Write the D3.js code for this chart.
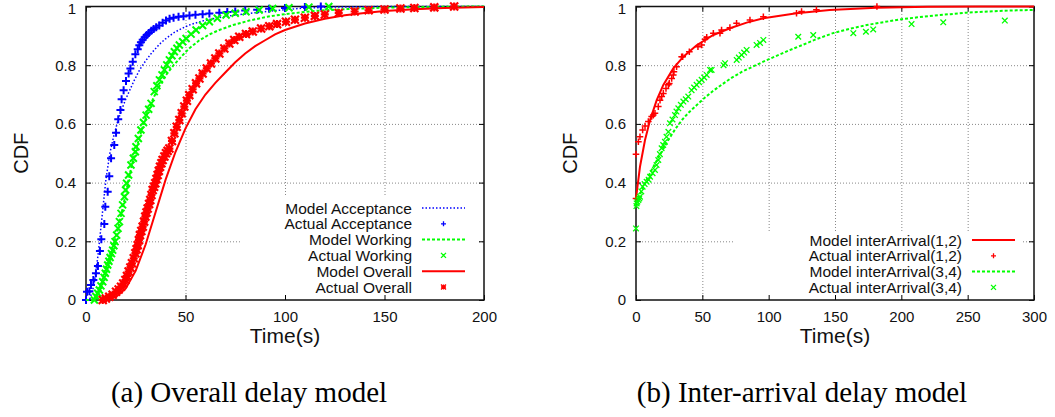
<!DOCTYPE html>
<html>
<head>
<meta charset="utf-8">
<script src="https://cdn.jsdelivr.net/npm/d3@7"></script>
<style>
  body { margin: 0; background: #fff; }
  svg { display: block; font-family: 'Liberation Sans', Arial, Helvetica, sans-serif; }
  .grid line { stroke: #888; stroke-dasharray: 1,2; }
  .grid .domain { display: none; }
  .axis .domain { display: none; }
  .axis line { stroke: #000; stroke-width: 1; }
  .axis text { font-size: 15px; fill: #111; font-family: 'Liberation Sans', Arial, sans-serif; }
</style>
</head>
<body>
<div id="chart"></div>
<script>
let width = 1055, height = 417

// DATA (time in seconds, CDF)
let cdfTicks = [0, 0.2, 0.4, 0.6, 0.8, 1]
let overallTicks = [0, 50, 100, 150, 200]
let interTicks = [0, 50, 100, 150, 200, 250, 300]

let modelAcceptance = [[0,0],[2,0.005],[4,0.05],[6,0.15],[8,0.28],[10,0.41],[12,0.5],[14,0.56],[16,0.61],[18,0.65],[20,0.685],[22,0.715],[24,0.745],[27,0.785],[30,0.815],[33,0.842],[37,0.872],[40,0.89],[44,0.91],[48,0.925],[52,0.937],[58,0.95],[65,0.96],[75,0.971],[85,0.979],[95,0.986],[108,0.994],[125,0.998],[150,1],[200,1]]
let actualAcceptance = [[0,0],[0.5,0.028],[1.7,0.03],[2.5,0.051],[3.7,0.068],[5,0.091],[6,0.116],[7,0.167],[7.7,0.207],[9.2,0.259],[9.7,0.318],[10.9,0.369],[11.7,0.422],[12.6,0.483],[14.2,0.528],[15.1,0.57],[16.2,0.616],[17.3,0.647],[17.9,0.684],[18.9,0.715],[20.1,0.746],[21.4,0.772],[22.3,0.789],[23.5,0.812],[24.8,0.837],[26,0.854],[26.8,0.868],[27.6,0.878],[28.5,0.887],[29.5,0.895],[30.5,0.903],[31.6,0.91],[32.8,0.917],[34,0.923],[35.3,0.929],[36.8,0.935],[38.5,0.945],[40.2,0.952],[42,0.958],[44,0.962],[46.5,0.965],[49,0.967],[52,0.969],[55,0.972],[58.6,0.974],[62,0.976],[67,0.979],[71,0.981],[75,0.983],[80,0.986],[86,0.989],[92,0.992],[100,0.995],[110,0.998],[118,1]]
let modelWorking = [[0,0],[3,0],[5,0.01],[7,0.04],[10,0.1],[13,0.165],[16,0.24],[19,0.33],[22,0.43],[25,0.51],[28,0.58],[31,0.64],[34,0.69],[37,0.73],[40,0.765],[44,0.8],[48,0.83],[52,0.858],[57,0.885],[62,0.905],[67,0.92],[74,0.937],[82,0.952],[91,0.965],[100,0.974],[115,0.985],[130,0.991],[150,0.996],[175,0.999],[200,1]]
let actualWorking = [[4.2,0],[5,0.012],[5.9,0.023],[6.7,0.034],[7.5,0.048],[8.4,0.062],[9.1,0.077],[9.7,0.091],[10.3,0.105],[10.9,0.119],[11.5,0.132],[12.1,0.145],[12.8,0.158],[13.4,0.17],[14,0.185],[14.6,0.199],[15.4,0.221],[16.1,0.244],[16.8,0.267],[17.6,0.295],[18.4,0.324],[19.3,0.352],[19.9,0.375],[20.4,0.398],[21.4,0.426],[22.6,0.46],[23.8,0.483],[24.8,0.505],[25.1,0.522],[26.3,0.55],[27.6,0.579],[28.9,0.605],[30.2,0.63],[31.5,0.65],[32.7,0.67],[34.3,0.71],[35.6,0.73],[36.9,0.75],[38.2,0.767],[39.4,0.784],[40.6,0.801],[41.9,0.818],[43.2,0.832],[44.4,0.846],[45.7,0.858],[46.9,0.869],[48.6,0.88],[50.3,0.891],[52.8,0.906],[55.3,0.92],[58.6,0.935],[62,0.948],[66,0.96],[70.4,0.971],[75,0.977],[80.4,0.982],[87,0.988],[93.8,0.993],[102,0.996],[112,0.998],[122,1]]
let modelOverall = [[10,0],[15,0.01],[20,0.04],[25,0.1],[30,0.19],[35,0.3],[40,0.41],[45,0.505],[50,0.585],[55,0.65],[60,0.7],[65,0.74],[70,0.775],[75,0.81],[80,0.84],[85,0.865],[90,0.885],[95,0.905],[100,0.92],[110,0.942],[120,0.958],[130,0.97],[140,0.978],[150,0.985],[165,0.991],[180,0.995],[200,0.998]]
let actualOverall = [[8.4,0],[10,0.005],[11.7,0.011],[13.4,0.018],[15.1,0.028],[16.4,0.036],[17.6,0.045],[18.7,0.056],[19.8,0.068],[20.6,0.082],[21.4,0.097],[22.3,0.111],[23.1,0.125],[24,0.142],[24.8,0.159],[25.4,0.173],[26,0.187],[26.6,0.204],[27.1,0.221],[27.8,0.235],[28.5,0.25],[29.2,0.267],[29.8,0.284],[30.4,0.298],[31,0.312],[31.7,0.327],[32.3,0.341],[32.9,0.358],[33.5,0.375],[34.2,0.386],[34.8,0.398],[35.4,0.412],[36,0.426],[36.6,0.44],[37.2,0.454],[37.9,0.466],[38.5,0.477],[39.4,0.489],[40.2,0.5],[41,0.508],[41.9,0.516],[43.2,0.542],[44.4,0.568],[45.6,0.59],[46.9,0.613],[48.1,0.636],[49.4,0.659],[50.7,0.679],[51.9,0.698],[53.6,0.718],[55.3,0.738],[57,0.755],[58.6,0.772],[60.7,0.789],[62.8,0.806],[65,0.823],[67,0.84],[69.5,0.857],[72,0.874],[74.5,0.886],[77,0.897],[80.4,0.906],[83.8,0.915],[88,0.925],[92.1,0.933],[96,0.94],[100.5,0.948],[105,0.955],[110,0.962],[115,0.968],[120,0.973],[127,0.978],[135,0.983],[142,0.987],[150,0.99],[158,0.993],[165,0.995],[175,0.997],[185,1]]

let modelInter12 = [[0,0.346],[3,0.454],[6.8,0.545],[10.6,0.613],[15.6,0.681],[20.6,0.733],[28.1,0.789],[35.7,0.829],[45.7,0.868],[58.3,0.903],[70.8,0.926],[83.4,0.945],[96,0.96],[121,0.977],[146,0.988],[181,0.996],[220,0.999],[260,1],[300,1]]
let actualInter12 = [[0,0.346],[0,0.497],[1.8,0.539],[3,0.556],[5,0.579],[6.8,0.593],[9.3,0.608],[11.8,0.625],[13,0.63],[14.3,0.636],[16.8,0.659],[18.1,0.681],[19.4,0.693],[20.6,0.704],[22.6,0.721],[24.4,0.733],[25.1,0.738],[26.9,0.755],[28.1,0.767],[28.6,0.778],[30.6,0.795],[34.4,0.829],[35.2,0.829],[40.2,0.846],[46.7,0.863],[49.5,0.869],[52,0.888],[53.3,0.895],[58.3,0.909],[63.3,0.909],[64.5,0.92],[70.8,0.928],[75.8,0.943],[85.9,0.954],[96,0.965],[121,0.977],[124.8,0.983],[136,0.989],[181.6,1]]
let modelInter34 = [[0,0.33],[4,0.37],[8,0.41],[12,0.445],[16,0.478],[20,0.51],[25,0.55],[30,0.585],[35,0.615],[40,0.64],[46,0.665],[52,0.69],[58,0.712],[65,0.735],[72,0.757],[80,0.778],[88,0.795],[96,0.812],[105,0.83],[115,0.85],[125,0.868],[135,0.887],[149,0.91],[162,0.925],[174,0.937],[187,0.947],[199,0.956],[212,0.963],[224,0.969],[237,0.974],[249,0.979],[262,0.982],[274,0.985],[287,0.987],[299,0.988]]
let actualInter34 = [[0,0.244],[0.3,0.32],[0.5,0.329],[1,0.335],[1.8,0.341],[2.5,0.346],[3,0.352],[4,0.37],[5,0.386],[6.5,0.395],[8,0.403],[9.5,0.41],[10.6,0.42],[12.5,0.432],[14.3,0.443],[15.5,0.46],[16.8,0.477],[18,0.497],[19.3,0.517],[20.5,0.528],[21.8,0.539],[23,0.556],[24.4,0.573],[25.6,0.602],[27.5,0.615],[29.4,0.63],[30.5,0.642],[31.9,0.653],[33.8,0.665],[35.7,0.676],[37.5,0.684],[39.4,0.693],[41.9,0.715],[43.8,0.724],[45.7,0.733],[47.6,0.742],[49.5,0.75],[51.4,0.758],[53.3,0.767],[55.8,0.784],[57,0.784],[66,0.8],[67.1,0.807],[75.9,0.818],[77.5,0.826],[79.6,0.835],[81.5,0.843],[83.4,0.852],[90.9,0.869],[93.5,0.876],[96,0.886],[122.3,0.897],[133.6,0.903],[163.8,0.909],[173.3,0.914],[178.8,0.922],[207.7,0.94],[231.6,0.946],[278,0.952]]

let svg = d3.select('#chart')
  .append('svg')
  .attr('width', width)
  .attr('height', height)

svg.append('rect').attr('width', width).attr('height', height).attr('fill', '#fff')

function markerPath (type, s) {
  let plus = 'M' + (-s) + ',0H' + s + 'M0,' + (-s) + 'V' + s
  let cross = 'M' + (-s) + ',' + (-s) + 'L' + s + ',' + s + 'M' + (-s) + ',' + s + 'L' + s + ',' + (-s)
  if (type === 'plus') return plus
  if (type === 'cross') return cross
  return plus + cross
}

// PANEL DRAWING
function drawPanel (p) {
  let x = d3.scaleLinear().domain([0, p.xMax]).range([p.left, p.right])
  let y = d3.scaleLinear().domain([0, 1]).range([p.bottom, p.top])
  let h = p.bottom - p.top, w = p.right - p.left

  let g = svg.append('g')

  // GRID LINES
  g.append('g')
    .attr('class', 'grid')
    .attr('transform', 'translate(0,' + p.bottom + ')')
    .call(d3.axisBottom(x).tickValues(p.xTicks.slice(1, -1)).tickSize(-h).tickFormat(''))
  g.append('g')
    .attr('class', 'grid')
    .attr('transform', 'translate(' + p.left + ',0)')
    .call(d3.axisLeft(y).tickValues(cdfTicks.slice(1, -1)).tickSize(-w).tickFormat(''))

  // legend box hides the grid behind it
  g.append('rect')
    .attr('x', p.legendBox[0]).attr('y', p.legendBox[1])
    .attr('width', p.legendBox[2] - p.legendBox[0])
    .attr('height', p.bottom - p.legendBox[1] - 1)
    .attr('fill', '#fff')

  // AXES (inward ticks, mirrored)
  g.append('g').attr('class', 'axis')
    .attr('transform', 'translate(0,' + p.bottom + ')')
    .call(d3.axisBottom(x).tickValues(p.xTicks).tickSize(-5).tickPadding(11).tickFormat(d => d))
  g.append('g').attr('class', 'axis')
    .attr('transform', 'translate(0,' + p.top + ')')
    .call(d3.axisTop(x).tickValues(p.xTicks).tickSize(-5).tickFormat(''))
  let yAxis = g.append('g').attr('class', 'axis')
    .attr('transform', 'translate(' + p.left + ',0)')
    .call(d3.axisLeft(y).tickValues(cdfTicks).tickSize(-5).tickPadding(10).tickFormat(d => d))
  // keep the top label inside the page
  yAxis.selectAll('.tick text').filter(d => d === 1).attr('dy', '0.45em')
  g.append('g').attr('class', 'axis')
    .attr('transform', 'translate(' + p.right + ',0)')
    .call(d3.axisRight(y).tickValues(cdfTicks).tickSize(-5).tickFormat(''))

  g.append('rect')
    .attr('x', p.left).attr('y', p.top)
    .attr('width', w).attr('height', h)
    .attr('fill', 'none')
    .attr('stroke', '#111')
    .attr('stroke-width', 1.5)

  // SERIES
  let line = d3.line().x(d => x(d[0])).y(d => y(d[1]))
  p.series.forEach(s => {
    if (s.kind === 'line') {
      g.append('path')
        .datum(s.data)
        .attr('d', line)
        .attr('fill', 'none')
        .attr('stroke', s.color)
        .attr('stroke-width', s.width)
        .attr('stroke-dasharray', s.dash)
    } else {
      g.append('g').selectAll('path')
        .data(s.data)
        .enter().append('path')
          .attr('transform', d => 'translate(' + x(d[0]) + ',' + y(d[1]) + ')')
          .attr('d', markerPath(s.marker, s.size))
          .attr('fill', 'none')
          .attr('stroke', s.color)
          .attr('stroke-width', s.width)
    }
  })

  // LEGEND
  p.series.forEach((s, i) => {
    let ly = p.legendTop + i * 15.8
    g.append('text')
      .attr('x', p.legendText)
      .attr('y', ly + 5.5)
      .attr('text-anchor', 'end')
      .style('font-size', '15.5px')
      .style('fill', '#111')
      .text(s.name)
    if (s.kind === 'line') {
      g.append('line')
        .attr('x1', p.legendText + 10).attr('x2', p.legendText + 53)
        .attr('y1', ly).attr('y2', ly)
        .attr('stroke', s.color)
        .attr('stroke-width', s.width)
        .attr('stroke-dasharray', s.dash)
    } else {
      g.append('path')
        .attr('transform', 'translate(' + (p.legendText + 31.5) + ',' + ly + ')')
        .attr('d', markerPath(s.marker, 2.5))
        .attr('fill', 'none')
        .attr('stroke', s.color)
        .attr('stroke-width', 1.3)
    }
  })

  // AXIS LABELS
  g.append('text')
    .attr('transform', 'translate(' + p.cdfX + ',' + ((p.top + p.bottom) / 2) + ') rotate(-90)')
    .attr('text-anchor', 'middle')
    .style('font-size', '20px')
    .style('fill', '#111')
    .text('CDF')
  g.append('text')
    .attr('x', (p.left + p.right) / 2)
    .attr('y', 342.5)
    .attr('text-anchor', 'middle')
    .style('font-size', '21px')
    .style('fill', '#111')
    .text('Time(s)')

  // CAPTION
  svg.append('text')
    .attr('x', p.captionX)
    .attr('y', 402)
    .attr('text-anchor', 'middle')
    .style('font-family', "'Liberation Serif', 'Times New Roman', serif")
    .style('font-size', '29px')
    .style('fill', '#000')
    .text(p.caption)
}

drawPanel({
  left: 86, right: 484, top: 6.5, bottom: 300, xMax: 200, xTicks: overallTicks,
  legendBox: [240, 197, 477], legendTop: 208, legendText: 412, cdfX: 28,
  captionX: 249, caption: '(a) Overall delay model',
  series: [
    { name: 'Model Acceptance', kind: 'line', data: modelAcceptance, color: '#0000ff', width: 1.5, dash: '1.5,2' },
    { name: 'Actual Acceptance', kind: 'marker', data: actualAcceptance, color: '#0000ff', width: 2, marker: 'plus', size: 4 },
    { name: 'Model Working', kind: 'line', data: modelWorking, color: '#00ff00', width: 2, dash: '3,2' },
    { name: 'Actual Working', kind: 'marker', data: actualWorking, color: '#00ff00', width: 2, marker: 'cross', size: 3.5 },
    { name: 'Model Overall', kind: 'line', data: modelOverall, color: '#ff0000', width: 2, dash: null },
    { name: 'Actual Overall', kind: 'marker', data: actualOverall, color: '#ff0000', width: 2.2, marker: 'star', size: 4 }
  ]
})

drawPanel({
  left: 636, right: 1034, top: 6.5, bottom: 300, xMax: 300, xTicks: interTicks,
  legendBox: [733, 231, 1023], legendTop: 240, legendText: 962, cdfX: 577,
  captionX: 802, caption: '(b) Inter-arrival delay model',
  series: [
    { name: 'Model interArrival(1,2)', kind: 'line', data: modelInter12, color: '#ff0000', width: 2, dash: null },
    { name: 'Actual interArrival(1,2)', kind: 'marker', data: actualInter12, color: '#ff0000', width: 1.5, marker: 'plus', size: 3.3 },
    { name: 'Model interArrival(3,4)', kind: 'line', data: modelInter34, color: '#00ff00', width: 2, dash: '3,2' },
    { name: 'Actual interArrival(3,4)', kind: 'marker', data: actualInter34, color: '#00ff00', width: 1.3, marker: 'cross', size: 2.8 }
  ]
})
</script>
</body>
</html>
